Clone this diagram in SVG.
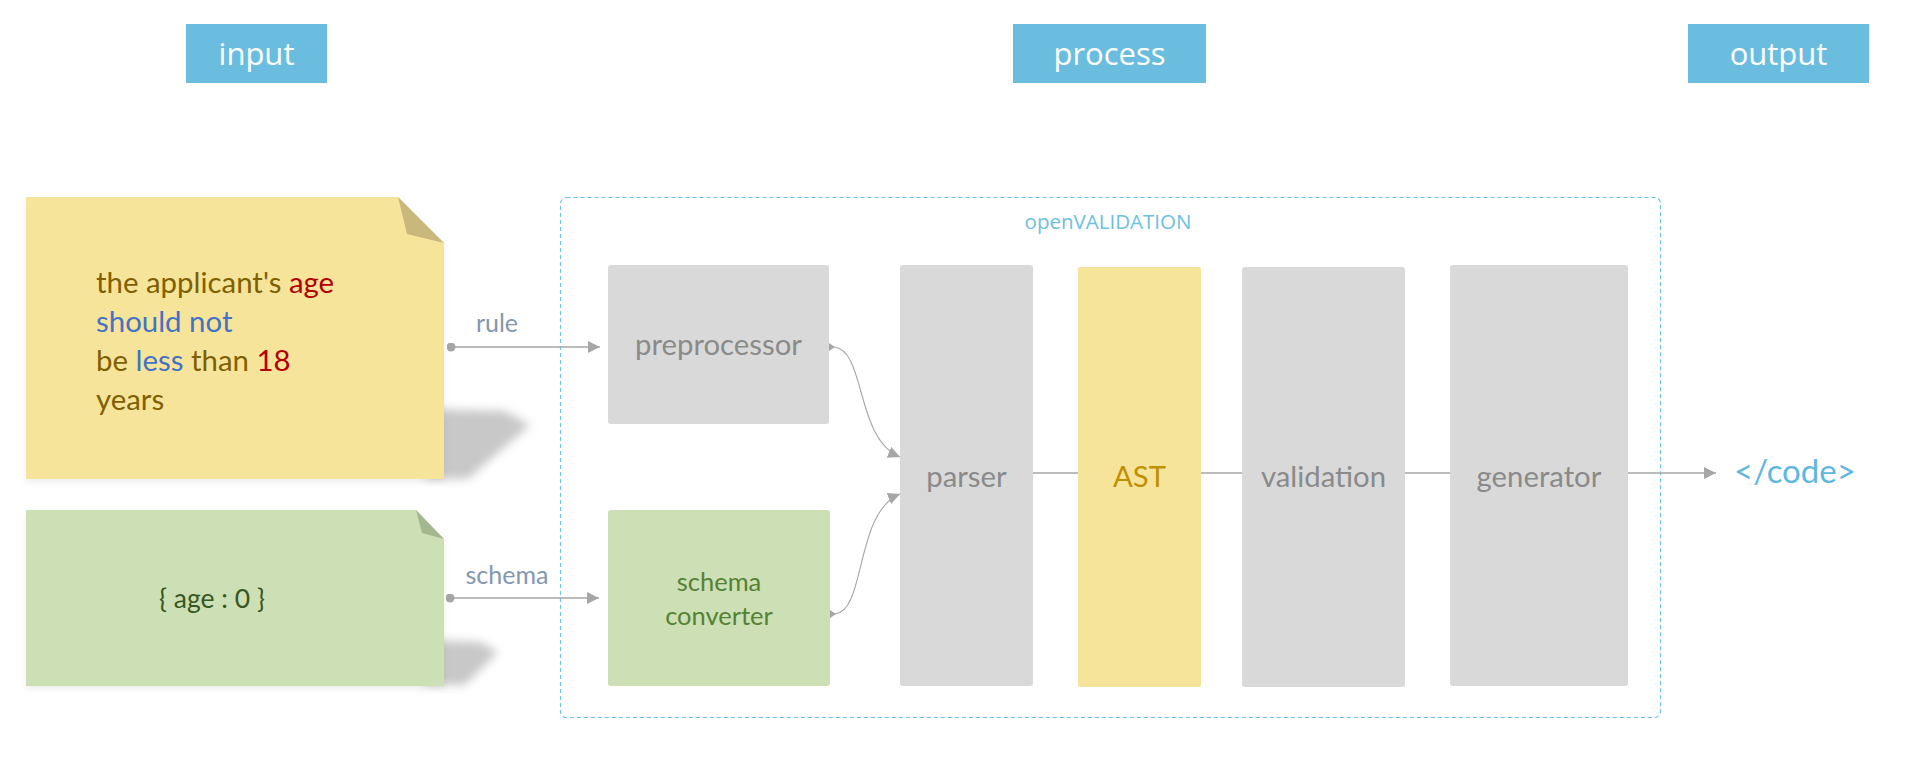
<svg xmlns="http://www.w3.org/2000/svg" width="1919" height="761" viewBox="0 0 1919 761">
<style>
.hdr{fill:#6bbde0}
.hdrt{font-family:"Open Sans",sans-serif;font-size:31px;fill:#ffffff;text-anchor:middle}
.body{font-family:Lato,"Liberation Sans",sans-serif}
.proc{fill:#d9d9d9}
.proct{font-family:Lato,"Liberation Sans",sans-serif;font-size:29.3px;fill:#8a8a8a;text-anchor:middle}
.lbl{font-family:Lato,"Liberation Sans",sans-serif;font-size:25px;fill:#8497b0;text-anchor:middle}
.conn{stroke:#a6a6a6;stroke-width:1.5;fill:none}
.thin{stroke:#a6a6a6;stroke-width:1.1;fill:none}
.tick{fill:#a6a6a6}
.shadow{fill:#c8c8c8}
</style>
<defs>
<marker id="arr" viewBox="0 0 12 12" refX="12" refY="6" markerWidth="12" markerHeight="12" markerUnits="userSpaceOnUse" orient="auto">
<path d="M0,0 L12,6 L0,12 z" fill="#a6a6a6"/>
</marker>
<marker id="dot" viewBox="0 0 10 10" refX="5" refY="5" markerWidth="9" markerHeight="9" markerUnits="userSpaceOnUse">
<circle cx="5" cy="5" r="5" fill="#a6a6a6"/>
</marker>
<filter id="blur" x="-30%" y="-30%" width="160%" height="160%">
<feGaussianBlur stdDeviation="5"/>
</filter>
<filter id="soft" x="-5%" y="-5%" width="110%" height="115%">
<feDropShadow dx="0" dy="3" stdDeviation="3" flood-color="#000" flood-opacity="0.07"/>
</filter>
</defs>

<g id="header-input"><rect class="hdr" x="186" y="24" width="141" height="59"/><text class="hdrt" x="256.5" y="65">input</text></g>
<g id="header-process"><rect class="hdr" x="1013" y="24" width="193" height="59"/><text class="hdrt" x="1109.5" y="65">process</text></g>
<g id="header-output"><rect class="hdr" x="1688" y="24" width="181" height="59"/><text class="hdrt" x="1778.5" y="65">output</text></g>

<g id="container">
<rect x="560.5" y="197.5" width="1100" height="520" rx="6" fill="none" stroke="#6cc3e3" stroke-width="1.2" stroke-dasharray="4 3"/>
<text x="1108" y="229" font-family="'Open Sans',sans-serif" font-size="20.5px" fill="#6cc0e0" text-anchor="middle">openVALIDATION</text>
</g>

<g id="note-rule">
<polygon class="shadow" points="425,409 505,411 530,425 468,479 425,479" filter="url(#blur)"/>
<polygon points="26,197 398,197 444,243 444,479 26,479" fill="#f7e49b" filter="url(#soft)"/>
<polygon points="398,197 407,234 444,243" fill="#c8b87c"/>
<text class="body" font-size="29.4px" fill="#7f6000">
<tspan x="96" y="293">the applicant's <tspan fill="#b00000">age</tspan></tspan>
<tspan x="96" y="332" fill="#4472c4">should not</tspan>
<tspan x="96" y="371">be <tspan fill="#4472c4">less</tspan> than <tspan fill="#b00000">18</tspan></tspan>
<tspan x="96" y="410">years</tspan>
</text>
</g>

<g id="note-schema">
<polygon class="shadow" points="425,640 480,642 498,652 465,685 425,685" filter="url(#blur)"/>
<polygon points="26,510 416,510 444,539 444,686 26,686" fill="#cddfb4" filter="url(#soft)"/>
<polygon points="416,510 422,533 444,539" fill="#a3b88e"/>
<text class="body" x="212" y="608" font-size="26.5px" fill="#385723" text-anchor="middle">{ age : 0 }</text>
</g>

<g id="preprocessor"><rect class="proc" x="608" y="265" width="221" height="159" rx="3"/><text class="proct" x="718.5" y="355">preprocessor</text></g>
<g id="schema-converter"><rect x="608" y="510" width="222" height="176" rx="3" fill="#cddfb4"/>
<text class="body" font-size="25.5px" fill="#548235" text-anchor="middle"><tspan x="719" y="591">schema</tspan><tspan x="719" y="625">converter</tspan></text></g>
<g id="parser"><rect class="proc" x="900" y="265" width="133" height="421" rx="3"/><text class="proct" x="966.5" y="487">parser</text></g>
<g id="ast"><rect x="1078" y="267" width="123" height="420" rx="2" fill="#f7e49b"/><text class="proct" x="1139.5" y="487" style="fill:#bf9000">AST</text></g>
<g id="validation"><rect class="proc" x="1242" y="267" width="163" height="420" rx="3"/><text class="proct" x="1323.5" y="487">validation</text></g>
<g id="generator"><rect class="proc" x="1450" y="265" width="178" height="421" rx="3"/><text class="proct" x="1539" y="487">generator</text></g>
<g id="code-output"><text x="1795" y="483" font-family="Lato,'Liberation Sans',sans-serif" font-size="33px" fill="#5cb8e0" text-anchor="middle">&lt;/code&gt;</text></g>

<g id="connectors">
<line class="conn" x1="451" y1="347" x2="600" y2="347" marker-start="url(#dot)" marker-end="url(#arr)"/>
<text class="lbl" x="497" y="332">rule</text>
<line class="conn" x1="450" y1="598" x2="599" y2="598" marker-start="url(#dot)" marker-end="url(#arr)"/>
<text class="lbl" x="507" y="584">schema</text>
<path class="tick" d="M829,343 L835,347 L829,351 z"/>
<path class="thin" d="M834,347 C866,350 855,438 900,457" marker-end="url(#arr)"/>
<path class="tick" d="M830,610 L836,614 L830,618 z"/>
<path class="thin" d="M835,614 C866,611 855,512 900,494" marker-end="url(#arr)"/>
<line class="conn" x1="1033" y1="473" x2="1078" y2="473"/>
<line class="conn" x1="1201" y1="473" x2="1242" y2="473"/>
<line class="conn" x1="1405" y1="473" x2="1450" y2="473"/>
<line class="conn" x1="1628" y1="473" x2="1716" y2="473" marker-end="url(#arr)"/>
</g>
</svg>
